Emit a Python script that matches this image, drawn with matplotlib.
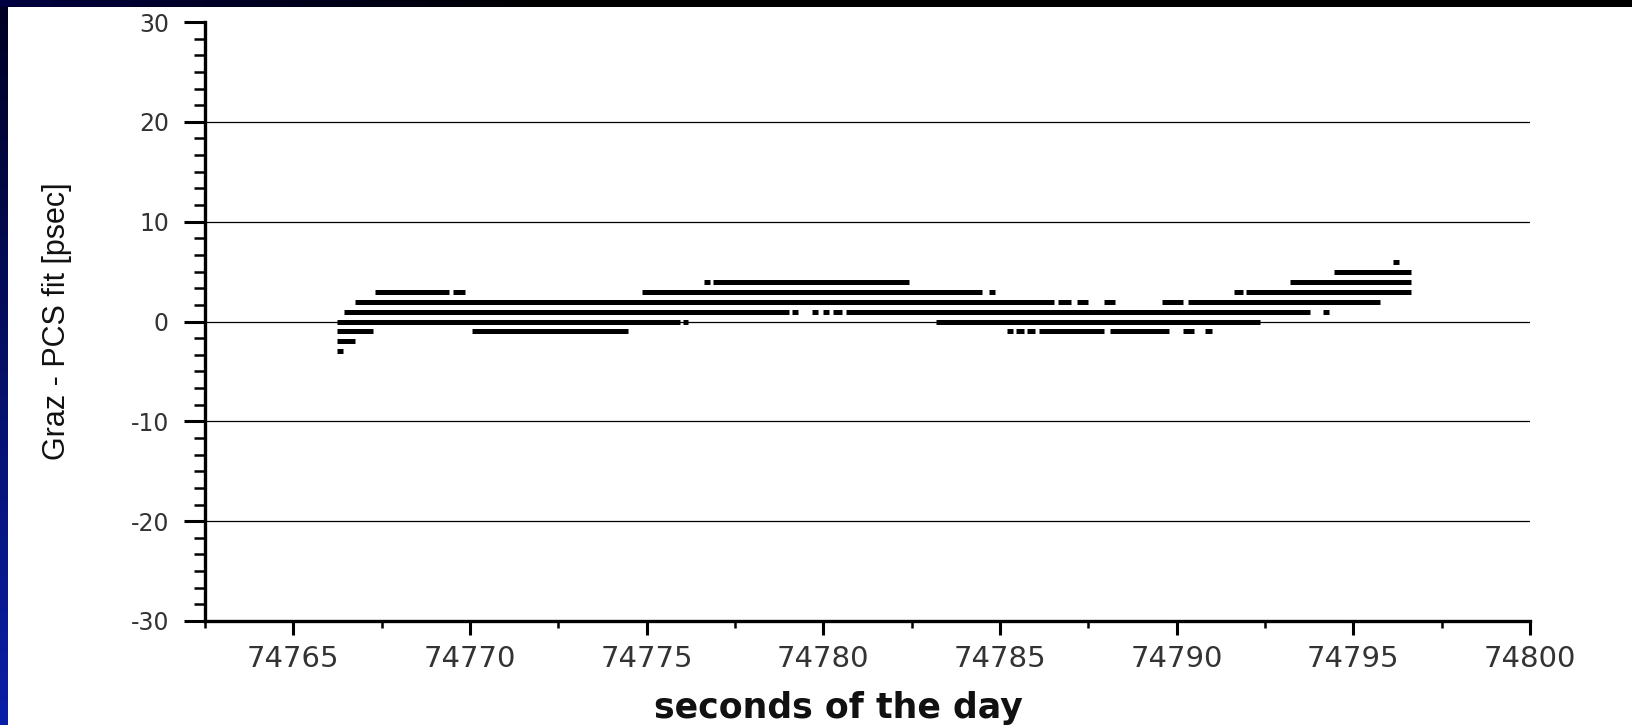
import numpy as np
import matplotlib
matplotlib.use("Agg")
import matplotlib.pyplot as plt
from matplotlib.ticker import MultipleLocator, AutoMinorLocator
from matplotlib.colors import LinearSegmentedColormap

plt.rcParams['axes.unicode_minus'] = False

# residuals are quantised to 1 ps, so every run of points is a horizontal dash
seg_y = [6,
         5,
         4, 4, 4,
         3, 3, 3, 3, 3, 3,
         2, 2, 2, 2, 2, 2,
         1, 1, 1, 1, 1, 1, 1,
         0, 0, 0,
         -1, -1, -1, -1, -1, -1, -1, -1, -1,
         -2,
         -3]
seg_start = [74796.13,
             74794.46,
             74776.62, 74776.87, 74793.21,
             74767.31, 74769.51, 74774.88, 74784.70, 74791.63, 74791.96,
             74766.75, 74786.63, 74787.19, 74787.95, 74789.58, 74790.31,
             74766.43, 74779.12, 74779.69, 74780.00, 74780.27, 74780.64, 74794.14,
             74766.24, 74776.02, 74783.19,
             74766.24, 74770.05, 74785.19, 74785.46, 74785.76, 74786.09, 74788.12, 74790.19, 74790.80,
             74766.24,
             74766.24]
seg_end = [74796.30,
           74796.63,
           74776.79, 74782.43, 74796.63,
           74769.41, 74769.87, 74784.49, 74784.87, 74791.87, 74796.63,
           74786.54, 74787.00, 74787.50, 74788.26, 74790.19, 74795.76,
           74779.04, 74779.29, 74779.86, 74780.17, 74780.54, 74793.76, 74794.32,
           74775.93, 74776.18, 74792.36,
           74767.25, 74774.48, 74785.38, 74785.68, 74785.99, 74787.93, 74789.77, 74790.50, 74790.99,
           74766.75,
           74766.40]

x_ticks = [74765, 74770, 74775, 74780, 74785, 74790, 74795, 74800]
y_ticks = [-30, -20, -10, 0, 10, 20, 30]
grid_y = [-20, -10, 0, 10, 20]

W, H = 1632, 725
fig = plt.figure(figsize=(W / 100, H / 100), dpi=100)
fig.patch.set_facecolor('white')

# slide frame: blue strip on the left, dark strip on top
left = fig.add_axes([0, 0, 8 / W, 1])
left.imshow(np.linspace(0, 1, 200).reshape(-1, 1), aspect='auto',
            cmap=LinearSegmentedColormap.from_list('l', ['#000022', '#0a1fa8']))
left.axis('off')
top = fig.add_axes([0, 1 - 7 / H, 1, 7 / H])
top.imshow(np.linspace(0, 1, 400).reshape(1, -1), aspect='auto',
           cmap=LinearSegmentedColormap.from_list('t', ['#000040', '#000000', '#000000', '#000000']))
top.axis('off')

ax = fig.add_axes([205 / W, 1 - 621 / H, (1530 - 205) / W, (621 - 22) / H])
ax.set_xlim(74762.5, 74800)
ax.set_ylim(-30, 30)

for gy in grid_y:
    ax.axhline(gy, color='black', lw=0.9, zorder=1)

ax.hlines(seg_y, seg_start, seg_end, colors='black', lw=3.6, capstyle='butt', zorder=3)

for s in ['top', 'right']:
    ax.spines[s].set_visible(False)
for s in ['left', 'bottom']:
    ax.spines[s].set_linewidth(2.4)

ax.set_xticks(x_ticks)
ax.set_xticklabels([str(t) for t in x_ticks])
ax.xaxis.set_minor_locator(MultipleLocator(2.5))
ax.set_yticks(y_ticks)
ax.yaxis.set_minor_locator(AutoMinorLocator(6))

ax.tick_params(axis='x', which='major', length=10, width=2.2, pad=7,
               labelsize=21, labelcolor='#333333')
ax.tick_params(axis='x', which='minor', length=5, width=1.8)
ax.tick_params(axis='y', which='major', length=15, width=2.2, pad=11,
               labelsize=17, labelcolor='#333333')
ax.tick_params(axis='y', which='minor', length=8, width=1.8)

ax.set_xlabel('seconds of the day', fontsize=25, fontweight='bold', color='#111111')
ax.xaxis.label.set_va('center')
ax.xaxis.set_label_coords(0.478, -0.145)
ax.set_ylabel('Graz - PCS fit [psec]', fontsize=22, family='Liberation Sans', color='#111111')
ax.yaxis.label.set_va('center')
ax.yaxis.set_label_coords(-0.112, 0.5)

fig.savefig('out.png', dpi=100)
